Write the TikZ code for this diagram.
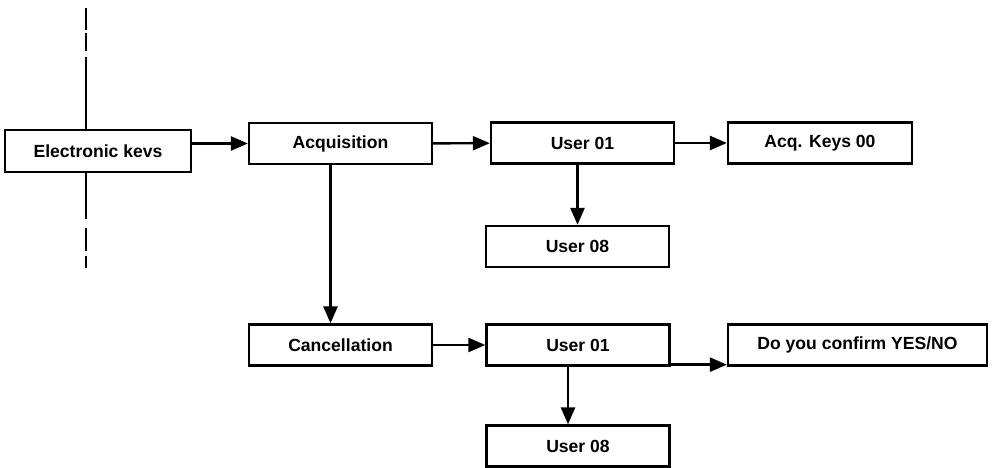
\documentclass[tikz,border=0pt]{standalone}
\usepackage{fontspec}
\setmainfont{Liberation Sans}
\usepackage{tikz}
\usetikzlibrary{arrows.meta,positioning,calc}

\begin{document}
\begin{tikzpicture}[
  box/.style={draw, line width=1.3pt, minimum width=3.66cm, minimum height=0.82cm,
    inner sep=0pt, align=center, font=\bfseries},
  arr/.style={-{Triangle[length=3.4mm,width=2.8mm]}, line width=1.4pt},
  conn/.style={line width=1.4pt}
]
\useasboundingbox (0,0) rectangle (19.84,-9.36);

% Keys
\node[box, minimum width=3.72cm, minimum height=0.84cm] (keys) at (1.96,-3.02) {Electronic kevs};
\coordinate (ktop) at (1.72,-0.16);
\coordinate (kbot) at (1.72,-5.36);

% Acquisition branch
\node[box] (acq) at (6.81,-2.87) {Acquisition};
\node[box] (usra) at (11.65,-2.86) {User 01};
\node[box, minimum width=3.68cm] (acqkeys) at (16.40,-2.86) {Acq. Keys 00};
\node[box] (usrb) at (11.55,-4.93) {User 08};

% Cancellation branch
\node[box] (canc) at (6.81,-6.90) {Cancellation};
\node[box] (usrc) at (11.56,-6.90) {User 01};
\node[box, minimum width=5.18cm] (conf) at (17.15,-6.90) {Do you confirm YES/NO};
\node[box] (usrd) at (11.56,-8.92) {User 08};

\draw[conn, dash pattern=on 1.44cm off 0.12cm on 0.36cm off 0.06cm on 0.46cm] (keys.north -| ktop) -- (ktop);
\draw[conn, dash pattern=on 0.92cm off 0.18cm on 0.46cm off 0.10cm on 0.26cm] (keys.south -| kbot) -- (kbot);

\draw[arr] (keys.east |- acq.west) -- (acq.west);
\draw[arr] (acq) -- (usra);
\draw[arr] (usra) -- (acqkeys);
\draw[arr] (usra.south -| usrb.north) -- (usrb.north);
\draw[arr] ([xshift=-0.2cm]acq.south) -- ([xshift=-0.2cm]canc.north);
\draw[arr] (canc) -- (usrc);
\draw[arr] ([xshift=-0.2cm]usrc.south) -- ([xshift=-0.2cm]usrd.north);
\draw[arr] ([yshift=0.04cm]usrc.south east) -- ([yshift=0.04cm]usrc.south east -| conf.west);

\end{tikzpicture}
\end{document}
